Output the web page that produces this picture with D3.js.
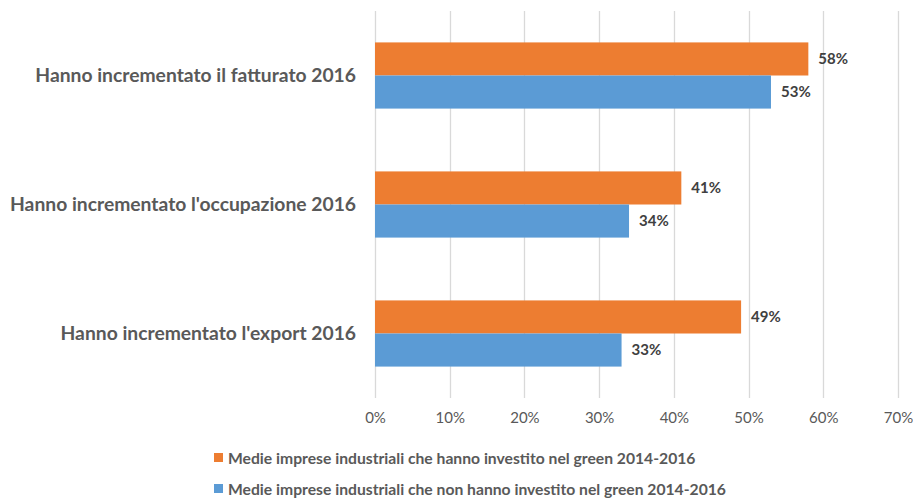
<!doctype html>
<html>
<head>
<meta charset="utf-8">
<script src="https://d3js.org/d3.v7.min.js"></script>
<style>
  body { margin: 0; background: #fff; }
  text { font-family: Lato, "Open Sans", sans-serif; }
</style>
</head>
<body>
<svg id="chart" width="913" height="498"></svg>
<script>
// data
const categories = [
  "Hanno incrementato il fatturato 2016",
  "Hanno incrementato l'occupazione 2016",
  "Hanno incrementato l'export 2016"
];
const seriesNames = [
  "Medie imprese industriali che hanno investito nel green 2014-2016",
  "Medie imprese industriali che non hanno investito nel green 2014-2016"
];
const greenValues = [0.58, 0.41, 0.49];
const nonGreenValues = [0.53, 0.34, 0.33];
const xTicks = [0, 0.1, 0.2, 0.3, 0.4, 0.5, 0.6, 0.7];
const colors = ["#ED7D31", "#5B9BD5"];

const rows = categories.map((c, i) => ({ cat: c, vals: [greenValues[i], nonGreenValues[i]] }));

const svg = d3.select("#chart");
const plot = { left: 375, right: 898, top: 11, bottom: 398 };

const x = d3.scaleLinear().domain([0, 0.7]).range([plot.left, plot.right]);
const y = d3.scaleBand().domain(categories).range([plot.top, plot.bottom])
  .paddingInner(0.487).paddingOuter(0.2435);
const ySub = d3.scaleBand().domain([0, 1]).range([0, y.bandwidth()]);

// gridlines
svg.append("g")
  .selectAll("line")
  .data(xTicks)
  .join("line")
  .attr("x1", d => Math.round(x(d)) + 0.5)
  .attr("x2", d => Math.round(x(d)) + 0.5)
  .attr("y1", plot.top)
  .attr("y2", plot.bottom)
  .attr("stroke", "#d9d9d9")
  .attr("stroke-width", 1.3);

// x axis labels
const xAxis = d3.axisBottom(x).tickValues(xTicks).tickFormat(d3.format(".0%")).tickSize(0).tickPadding(0);
const gx = svg.append("g").attr("transform", `translate(0,${plot.bottom + 14})`).call(xAxis);
gx.select(".domain").remove();
gx.selectAll("text")
  .attr("dy", "0.71em")
  .attr("fill", "#595959")
  .style("font-size", "15px")
  .style("font-family", "Lato, sans-serif");

// category labels
svg.append("g")
  .selectAll("text")
  .data(categories)
  .join("text")
  .attr("x", 356)
  .attr("y", d => y(d) + y.bandwidth() / 2)
  .attr("dy", "0.35em")
  .attr("text-anchor", "end")
  .attr("fill", "#595959")
  .style("font-size", "19.3px")
  .style("font-weight", "bold")
  .text(d => d);

// bars
const groups = svg.append("g")
  .selectAll("g")
  .data(rows)
  .join("g")
  .attr("transform", d => `translate(0,${y(d.cat)})`);

groups.selectAll("rect")
  .data(d => d.vals.map((v, i) => ({ v, i })))
  .join("rect")
  .attr("x", x(0))
  .attr("y", d => ySub(d.i))
  .attr("width", d => x(d.v) - x(0))
  .attr("height", ySub.bandwidth())
  .attr("fill", d => colors[d.i]);

groups.selectAll("text")
  .data(d => d.vals.map((v, i) => ({ v, i })))
  .join("text")
  .attr("x", d => x(d.v) + 10)
  .attr("y", d => ySub(d.i) + ySub.bandwidth() / 2)
  .attr("dy", "0.35em")
  .attr("fill", "#404040")
  .style("font-size", "15px")
  .style("font-weight", "bold")
  .text(d => d3.format(".0%")(d.v));

// legend
const legend = svg.append("g")
  .selectAll("g")
  .data(seriesNames)
  .join("g")
  .attr("transform", (d, i) => `translate(214,${458 + i * 31})`);

legend.append("rect")
  .attr("x", 0)
  .attr("y", -5)
  .attr("width", 9)
  .attr("height", 9)
  .attr("fill", (d, i) => colors[i]);

legend.append("text")
  .attr("x", 14)
  .attr("y", 0)
  .attr("dy", "0.35em")
  .attr("fill", "#595959")
  .style("font-size", "15.7px")
  .style("font-weight", "bold")
  .text(d => d);
</script>
</body>
</html>
